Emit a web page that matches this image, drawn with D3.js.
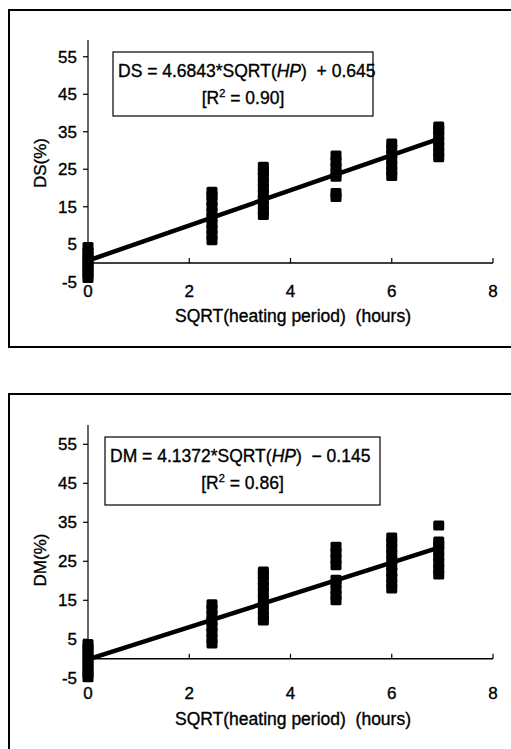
<!DOCTYPE html>
<html>
<head>
<meta charset="utf-8">
<script src="https://cdn.jsdelivr.net/npm/d3@7"></script>
<style>
  body { margin: 0; background: white; }
  svg { display: block; font-family: "Liberation Sans", Arial, sans-serif; }
  text { fill: black; stroke: black; stroke-width: 0.35px; }
</style>
</head>
<body>
<svg width="511" height="749"></svg>
<script>
// sqrt of heating period (0, 6, 12, 24, 36, 48 h)
const hpRoot = [0, 2.449, 3.464, 4.899, 6, 6.928]
const xTicks = [0, 2, 4, 6, 8]
const yTicks = [-5, 5, 15, 25, 35, 45, 55]

// DS (%) readings at each heating period
const dsValues = [
  [-4, -3, -2, -1, 0, 1, 2, 3, 4.3],
  [6.1, 7.5, 9, 10.5, 12, 13.5, 15, 16.5, 18, 19],
  [12.8, 14, 15.5, 17, 18.5, 20, 21.5, 23, 24.5, 25.7],
  [17.6, 18.7, 23, 24, 25.5, 27, 28.7],
  [23.2, 24.5, 26, 27.5, 29, 30.5, 31.9],
  [28.2, 29.5, 31, 32.5, 34, 35.5, 36.4]
]
// DM (%) readings at each heating period
const dmValues = [
  [-4.7, -3.8, -2.7, -1.6, -0.5, 0.6, 1.7, 2.8, 3.8],
  [3.9, 5.2, 6.7, 8.2, 9.7, 11.2, 12.7, 14],
  [9.8, 11, 12.5, 14, 15.5, 17, 18.5, 20, 21.5, 22.4],
  [15, 16.3, 17.8, 19.3, 20.3, 24, 25.5, 27.2, 28.7],
  [18, 19.3, 20.8, 22.3, 23.8, 25.3, 26.8, 28.3, 29.8, 31.1],
  [21.6, 23, 24.6, 26.2, 27.8, 29.2, 30.1, 34.2]
]

const dsFit = { slope: 4.6843, intercept: 0.645, r2: "0.90" }
const dmFit = { slope: 4.1372, intercept: -0.145, r2: "0.86" }

const svg = d3.select("svg")

function drawPanel(opts) {
  let g = svg.append("g")

  // panel frame
  g.append("rect")
    .attr("x", 9).attr("y", opts.frameTop)
    .attr("width", 520).attr("height", opts.frameHeight)
    .style("fill", "none").style("stroke", "black").style("stroke-width", 2)

  let x = d3.scaleLinear().domain([0, 8]).range([88, 493])
  let y = d3.scaleLinear().domain([0, 10]).range([opts.zeroY, opts.zeroY - opts.pxPer10])

  // y axis line + ticks
  g.append("line")
    .attr("x1", 88).attr("x2", 88)
    .attr("y1", opts.axisTop).attr("y2", y(-5))
    .style("stroke", "black").style("stroke-width", 1.2)
  g.selectAll(".ytick").data(yTicks).enter().append("line")
    .attr("x1", 83).attr("x2", 88)
    .attr("y1", d => y(d)).attr("y2", d => y(d))
    .style("stroke", "black").style("stroke-width", 1.2)
  g.selectAll(".ylab").data(yTicks).enter().append("text")
    .attr("x", 77).attr("y", d => y(d) + 6)
    .attr("text-anchor", "end")
    .style("font-size", "17px")
    .text(d => d)

  // x axis at y = 0
  g.append("line")
    .attr("x1", 88).attr("x2", 493)
    .attr("y1", y(0)).attr("y2", y(0))
    .style("stroke", "black").style("stroke-width", 1.4)
  g.selectAll(".xtick").data(xTicks.slice(1)).enter().append("line")
    .attr("x1", d => x(d)).attr("x2", d => x(d))
    .attr("y1", y(0)).attr("y2", y(0) - 5)
    .style("stroke", "black").style("stroke-width", 1.2)
  g.selectAll(".xlab").data(xTicks).enter().append("text")
    .attr("x", d => x(d)).attr("y", opts.xLabelY)
    .attr("text-anchor", "middle")
    .style("font-size", "17px")
    .text(d => d)

  // axis titles
  g.append("text")
    .attr("x", 293).attr("y", opts.xTitleY)
    .attr("text-anchor", "middle")
    .style("font-size", "17.5px")
    .attr("xml:space", "preserve")
    .text("SQRT(heating period)  (hours)")
  g.append("text")
    .attr("transform", "translate(46," + opts.yTitleY + ") rotate(-90)")
    .attr("text-anchor", "middle")
    .style("font-size", "17px")
    .text(opts.name + "(%)")

  // observations, stacked thick markers
  let pts = []
  opts.values.forEach((vals, i) => vals.forEach(v => pts.push({ x: hpRoot[i], v: v })))
  g.selectAll(".pt").data(pts).enter().append("rect")
    .attr("x", d => x(d.x) - 5.5)
    .attr("y", d => y(d.v) - 5)
    .attr("width", 11).attr("height", 10)
    .attr("rx", 1.5)
    .style("fill", "black")

  // fitted line
  let fit = opts.fit
  let ends = [0, hpRoot[hpRoot.length - 1]]
  g.append("line")
    .attr("x1", x(ends[0])).attr("y1", y(fit.intercept + fit.slope * ends[0]))
    .attr("x2", x(ends[1])).attr("y2", y(fit.intercept + fit.slope * ends[1]))
    .style("stroke", "black").style("stroke-width", 4.5)

  // equation box
  let b = opts.box
  g.append("rect")
    .attr("x", b.x).attr("y", b.y).attr("width", b.w).attr("height", b.h)
    .style("fill", "white").style("stroke", "black").style("stroke-width", 1.2)
  let eq = g.append("text")
    .attr("x", b.x + 5).attr("y", b.y + 25)
    .style("font-size", "17.5px")
    .attr("xml:space", "preserve")
  eq.append("tspan").text(opts.name + " = " + fit.slope.toFixed(4) + "*SQRT(")
  eq.append("tspan").style("font-style", "italic").text("HP")
  let sign = fit.intercept < 0 ? "  \u2212 " : "  + "
  eq.append("tspan").text(")" + sign + Math.abs(fit.intercept).toFixed(3))

  let r = g.append("text")
    .attr("x", b.x + b.w / 2).attr("y", b.y + 52)
    .attr("text-anchor", "middle")
    .style("font-size", "17.5px")
    .attr("xml:space", "preserve")
  r.append("tspan").text("[R")
  r.append("tspan").attr("dy", -7).style("font-size", "11px").text("2")
  r.append("tspan").attr("dy", 7).text(" = " + fit.r2 + "]")
}

drawPanel({
  name: "DS", values: dsValues, fit: dsFit,
  frameTop: 10, frameHeight: 337,
  zeroY: 263, pxPer10: 37.5, axisTop: 40,
  xLabelY: 297, xTitleY: 322, yTitleY: 163,
  box: { x: 113, y: 52, w: 260, h: 64 }
})

drawPanel({
  name: "DM", values: dmValues, fit: dmFit,
  frameTop: 394, frameHeight: 400,
  zeroY: 658.8, pxPer10: 39, axisTop: 425,
  xLabelY: 699, xTitleY: 725, yTitleY: 560,
  box: { x: 105, y: 437, w: 275, h: 68 }
})
</script>
</body>
</html>
